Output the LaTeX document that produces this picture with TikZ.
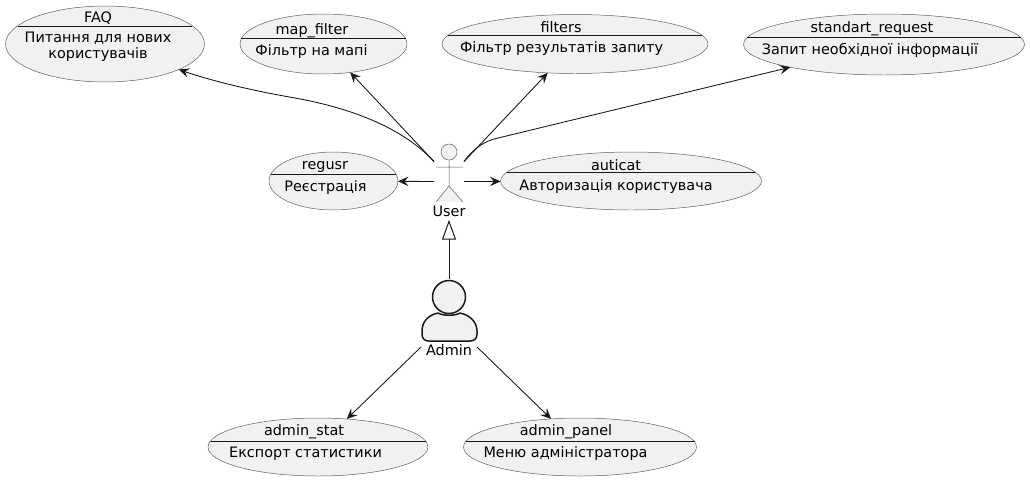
\documentclass[tikz,border=0pt]{standalone}
\usepackage{fontspec}
\setmainfont{DejaVu Sans}
\usetikzlibrary{arrows.meta,shapes.geometric}

\definecolor{casefill}{HTML}{F1F1F1}
\definecolor{caseline}{HTML}{181818}

\begin{document}
\begin{tikzpicture}
[
	x=0.02cm,y=-0.02cm,
	usecase/.style={ellipse,draw=caseline!70!white,line width=0.28pt,fill=casefill,inner sep=0pt,outer sep=0pt},
	casetext/.style={inner sep=0pt,align=center,font=\fontsize{8.2}{9.07}\selectfont},
	casesep/.style={draw=caseline,line width=0.567pt},
	anchorbox/.style={inner sep=0pt,outer sep=0pt},
	conn/.style={draw=caseline,line width=0.5pt,-{Stealth[length=6pt,width=5.4pt,inset=2.3pt]}},
	inherit/.style={draw=caseline,line width=0.567pt,-{Triangle[open,length=11.3pt,width=8pt,fill=white]}},
	stickman/.style={draw=caseline!70!white,line width=0.28pt,fill=casefill},
	bustman/.style={draw=caseline,line width=0.85pt,fill=casefill,line join=round}
]

	\useasboundingbox (0,0) rectangle (1030,481);

	% top row
	\node[usecase,minimum width=3.98cm,minimum height=1.52cm] (faq) at (105,44) {};
	\draw[casesep] (18,26) -- (192,26);
	\node[casetext] (faqtitle) at (98,18) {FAQ};
	\node[casetext] (faqbody) at (98,47) {Питання для нових\\користувачів};

	\node[usecase,minimum width=3.34cm,minimum height=1.2cm] (mapfilter) at (323.5,44) {};
	\draw[casesep] (241,38) -- (406,38);
	\node[casetext] (mapfiltertitle) at (312,31) {map\_filter};
	\node[casetext] (mapfilterbody) at (311.5,52) {Фільтр на мапі};

	\node[usecase,minimum width=5.32cm,minimum height=1.18cm] (filters) at (575,44) {};
	\draw[casesep] (448,35) -- (702,35);
	\node[casetext] (filterstitle) at (561,27) {filters};
	\node[casetext] (filtersbody) at (561.5,48.5) {Фільтр результатів запиту};

	\node[usecase,minimum width=5.62cm,minimum height=1.22cm] (standart) at (884,44.5) {};
	\draw[casesep] (747,37) -- (1021,37);
	\node[casetext] (standarttitle) at (872,29) {standart\_request};
	\node[casetext] (standartbody) at (870,50.5) {Запит необхідної інформації};

	% middle row
	\node[usecase,minimum width=2.58cm,minimum height=1.16cm] (regusr) at (333.5,181) {};
	\draw[casesep] (271,174) -- (396,174);
	\node[casetext] (regusrtitle) at (325,167) {regusr};
	\node[casetext] (regusrbody) at (325.5,187.5) {Реєстрація};

	\node[usecase,minimum width=5.22cm,minimum height=1.16cm] (auticat) at (631,181) {};
	\draw[casesep] (507,172) -- (755,172);
	\node[casetext] (auticattitle) at (616,165) {auticat};
	\node[casetext] (auticatbody) at (616,186.5) {Авторизація користувача};

	% bottom row
	\node[usecase,minimum width=4.4cm,minimum height=1.16cm] (adminstat) at (318,447) {};
	\draw[casesep] (210.5,441) -- (425.5,441);
	\node[casetext] (adminstattitle) at (304,432) {admin\_stat};
	\node[casetext] (adminstatbody) at (305.5,453.5) {Експорт статистики};

	\node[usecase,minimum width=4.66cm,minimum height=1.16cm] (adminpanel) at (580,447) {};
	\draw[casesep] (465.5,441) -- (694.5,441);
	\node[casetext] (adminpaneltitle) at (566,432) {admin\_panel};
	\node[casetext] (adminpanelbody) at (565.5,453.5) {Меню адміністратора};

	% user figure
	\draw[stickman] (449,152) circle [radius=0.16cm];
	\draw[stickman] (449,160) -- (449,186) (436,167) -- (463,167) (436,202) -- (449,186) -- (463,202);
	\node[anchorbox,minimum width=0.6cm,minimum height=0.8cm] (user) at (449,181.5) {};
	\node[casetext,minimum height=0.34cm] (userlabel) at (449,211) {User};

	% admin figure
	\draw[bustman] (449,297) circle [radius=0.33cm];
	\draw[bustman] (438,313) .. controls (443,316) and (455,316) .. (460,313)
		.. controls (470,315) and (477,322) .. (477,331) -- (477,334)
		.. controls (477,339) and (474,341) .. (470,341) -- (429,341)
		.. controls (425,341) and (422,339) .. (422,334) -- (422,331)
		.. controls (422,322) and (428,315) .. (438,313) -- cycle;
	\node[anchorbox,minimum width=1.12cm,minimum height=1.36cm] (admin) at (449,313) {};
	\node[casetext] (adminlabel) at (449,350) {Admin};

	% connectors
	\draw[conn] (user.north west) .. controls (400,125) and (345,107) .. (295,98)
		.. controls (255,91) and (215,82) .. (faq);
	\draw[conn] (user.north west) -- (mapfilter);
	\draw[conn] (user.north east) -- (filters);
	\draw[conn] (user.north east) .. controls (470,153) and (480,143) .. (494,139) -- (standart);
	\draw[conn] (user.west) -- (regusr);
	\draw[conn] (user.east) -- (auticat);
	\draw[inherit] (admin.north) -- (userlabel.south);
	\draw[conn] (admin.south west) -- (adminstat);
	\draw[conn] (admin.south east) -- (adminpanel);

\end{tikzpicture}
\end{document}
